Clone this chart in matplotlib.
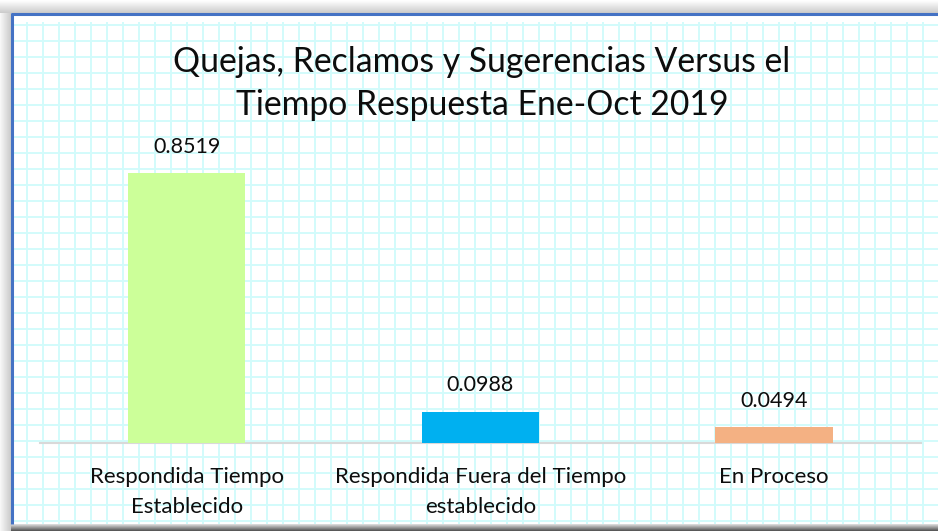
import matplotlib
matplotlib.use("Agg")
import matplotlib.pyplot as plt
import numpy as np

categories = ["Respondida Tiempo\nEstablecido", "Respondida Fuera del Tiempo\nestablecido", "En Proceso"]
values = [0.8519, 0.0988, 0.0494]
value_labels = ["0.8519", "0.0988", "0.0494"]
bar_colors = ["#CCFF99", "#00B0F0", "#F4B183"]
title = "Quejas, Reclamos y Sugerencias Versus el\nTiempo Respuesta Ene-Oct 2019"

FONT = ["Lato", "DejaVu Sans"]
plt.rcParams['font.family'] = FONT

W, H = 938, 531
fig = plt.figure(figsize=(W / 100, H / 100), dpi=100, facecolor="white")

# background / frame decoration in pixel coordinates
bg = fig.add_axes([0, 0, 1, 1])
bg.set_xlim(0, W)
bg.set_ylim(H, 0)
bg.axis("off")

# shadows outside the chart frame
top_grad = np.linspace(1.0, 0.80, 14).reshape(-1, 1)
bg.imshow(np.repeat(top_grad, 2, axis=1), cmap="gray", vmin=0, vmax=1,
          extent=(0, W, 13, 0), aspect="auto", interpolation="bilinear", zorder=0)
left_grad = np.linspace(0.97, 0.80, 11).reshape(1, -1)
bg.imshow(np.repeat(left_grad, 2, axis=0), cmap="gray", vmin=0, vmax=1,
          extent=(0, 11, H, 13), aspect="auto", interpolation="bilinear", zorder=0)
bot_grad = np.linspace(0.85, 0.35, 7).reshape(-1, 1)
bg.imshow(np.repeat(bot_grad, 2, axis=1), cmap="gray", vmin=0, vmax=1,
          extent=(11, W, H, 524), aspect="auto", interpolation="bilinear", zorder=0)

# chart area
bg.add_patch(plt.Rectangle((11, 13), W - 11, 524 - 13, facecolor="white",
                           edgecolor="none", zorder=1))
grid_c = "#D2FBFB"
for gx in np.arange(27.3, W, 16.0):
    bg.plot([gx, gx], [22, 524], color=grid_c, lw=1.4, zorder=2, solid_capstyle="butt")
for gy in np.arange(24.9, 524, 16.0):
    bg.plot([13, W], [gy, gy], color=grid_c, lw=1.4, zorder=2, solid_capstyle="butt")
# blue frame (left and top)
bg.plot([11.5, 11.5], [13, 524], color="#4472C4", lw=2.2, zorder=3, solid_capstyle="butt")
bg.plot([10.5, W], [13.5, 13.5], color="#4472C4", lw=2.2, zorder=3, solid_capstyle="butt")

# plot axes
x0, x1 = 39.75, 920.75
ybase = 443.0
ppu = 317.0
ymax = 0.9
ytop = ybase - ymax * ppu
ax = fig.add_axes([x0 / W, (H - ybase) / H, (x1 - x0) / W, (ybase - ytop) / H])
ax.patch.set_alpha(0)
x = np.arange(len(categories))
bars = ax.bar(x, values, width=0.4, color=bar_colors, zorder=3)
ax.set_xlim(-0.5, len(categories) - 0.5)
ax.set_ylim(0, ymax)
for s in ["top", "right", "left"]:
    ax.spines[s].set_visible(False)
ax.spines["bottom"].set_color("#D9D9D9")
ax.spines["bottom"].set_linewidth(1.5)
ax.set_yticks([])
ax.set_xticks(x)
ax.set_xticklabels(categories, fontsize=16, color="#0d0d0d", linespacing=1.65)
ax.tick_params(axis="x", length=0, pad=17)

for xi, v, lab in zip(x, values, value_labels):
    ax.annotate(lab, (xi, v), xytext=(0, 19), textcoords="offset points",
                ha="center", va="center", fontsize=15.5, color="#0d0d0d")

fig.text(482 / W, 1 - 83.5 / H, title, ha="center", va="center", fontsize=24.3,
         color="#0d0d0d", linespacing=1.45)

fig.savefig("out.png", dpi=100, facecolor=fig.get_facecolor())
